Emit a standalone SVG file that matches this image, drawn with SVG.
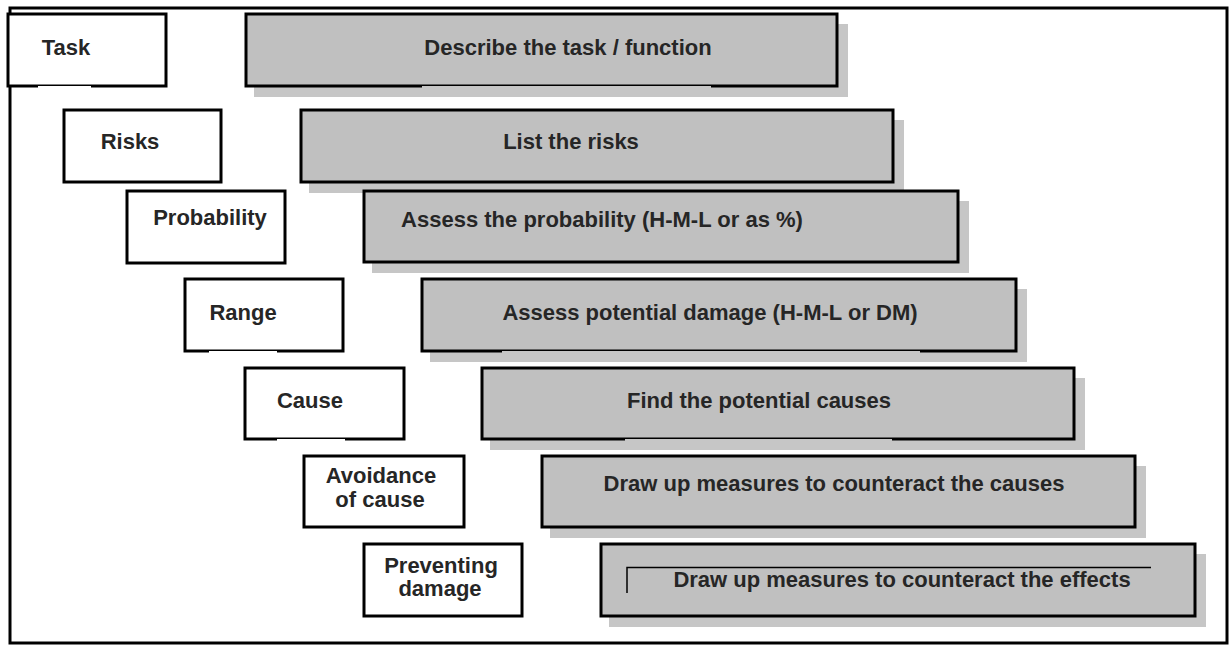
<svg xmlns="http://www.w3.org/2000/svg" width="1232" height="648" viewBox="0 0 1232 648">
  <defs>
    <style>
      .frame { fill: #ffffff; stroke: #000000; stroke-width: 3; }
      .label { fill: #ffffff; stroke: #000000; stroke-width: 3; }
      .step { fill: #c0c0c0; stroke: #000000; stroke-width: 3; }
      .shadow { fill: #c6c6c6; stroke: none; }
      .thinW { fill: #ffffff; }
      .thinG { fill: #c6c6c6; }
      text { font-family: "Liberation Sans", Arial, sans-serif; font-size: 22px; font-weight: bold; fill: #262626; text-anchor: middle; }
      .bracket { fill: none; stroke: #000000; stroke-width: 1.5; }
    </style>
  </defs>

  <!-- outer frame -->
  <rect class="frame" x="10" y="8" width="1217" height="635"/>

  <!-- row 1 -->
  <g id="task">
    <rect class="label" x="8" y="14" width="158" height="72"/>
    <rect class="thinW" x="38" y="86" width="53" height="2"/>
    <text x="66" y="55">Task</text>
  </g>
  <g id="describe">
    <rect class="shadow" x="254" y="24" width="594" height="73"/>
    <rect class="step" x="246" y="14" width="591" height="72"/>
    <rect class="thinG" x="422" y="86" width="289" height="2"/>
    <text x="568" y="55">Describe the task / function</text>
  </g>

  <!-- row 2 -->
  <g id="risks">
    <rect class="label" x="64" y="110" width="157" height="72"/>
    <text x="130" y="149">Risks</text>
  </g>
  <g id="list-risks">
    <rect class="shadow" x="309" y="120" width="595" height="73"/>
    <rect class="step" x="301" y="110" width="592" height="72"/>
    <text x="571" y="149">List the risks</text>
  </g>

  <!-- row 3 -->
  <g id="probability">
    <rect class="label" x="127" y="191" width="158" height="72"/>
    <text x="210" y="225">Probability</text>
  </g>
  <g id="assess-probability">
    <rect class="shadow" x="372" y="201" width="597" height="72"/>
    <rect class="step" x="364" y="191" width="594" height="71"/>
    <text x="602" y="227">Assess the probability (H-M-L or as %)</text>
  </g>

  <!-- row 4 -->
  <g id="range">
    <rect class="label" x="185" y="279" width="158" height="72"/>
    <rect class="thinW" x="209" y="351" width="68" height="2"/>
    <text x="243" y="320">Range</text>
  </g>
  <g id="assess-damage">
    <rect class="shadow" x="430" y="289" width="597" height="73"/>
    <rect class="step" x="422" y="279" width="594" height="72"/>
    <rect class="thinG" x="502" y="351" width="418" height="2"/>
    <text x="710" y="320">Assess potential damage (H-M-L or DM)</text>
  </g>

  <!-- row 5 -->
  <g id="cause">
    <rect class="label" x="245" y="368" width="159" height="71"/>
    <rect class="thinW" x="277" y="439" width="68" height="2"/>
    <text x="310" y="408">Cause</text>
  </g>
  <g id="find-causes">
    <rect class="shadow" x="490" y="378" width="595" height="72"/>
    <rect class="step" x="482" y="368" width="592" height="71"/>
    <rect class="thinG" x="625" y="439" width="267" height="2"/>
    <text x="759" y="408">Find the potential causes</text>
  </g>

  <!-- row 6 -->
  <g id="avoidance">
    <rect class="label" x="304" y="456" width="160" height="71"/>
    <text x="381" y="483">Avoidance</text>
    <text x="380" y="507">of cause</text>
  </g>
  <g id="counter-causes">
    <rect class="shadow" x="550" y="466" width="596" height="72"/>
    <rect class="step" x="542" y="456" width="593" height="71"/>
    <text x="834" y="491">Draw up measures to counteract the causes</text>
  </g>

  <!-- row 7 -->
  <g id="preventing">
    <rect class="label" x="364" y="544" width="158" height="72"/>
    <text x="441" y="573">Preventing</text>
    <text x="440" y="596">damage</text>
  </g>
  <g id="counter-effects">
    <rect class="shadow" x="609" y="554" width="597" height="73"/>
    <rect class="step" x="601" y="544" width="594" height="72"/>
    <path class="bracket" d="M627,593 V567.5 H1151"/>
    <text x="902" y="587">Draw up measures to counteract the effects</text>
  </g>

  <!-- no connectors are drawn between the boxes -->
  <g id="connectors"/>
</svg>
